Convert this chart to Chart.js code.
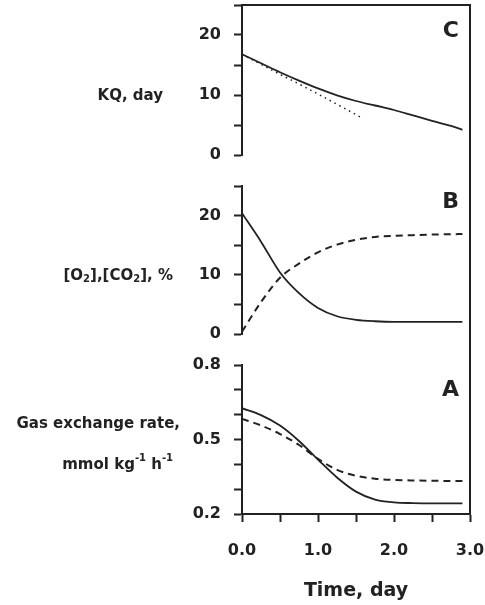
<!DOCTYPE html>
<html>
<head>
<meta charset="utf-8">
<script src="https://cdn.jsdelivr.net/npm/chart.js@4.4.0/dist/chart.umd.min.js"></script>
<style>
  html, body { margin: 0; padding: 0; background: #fff; }
  #wrap { width: 485px; height: 605px; position: relative; }
</style>
</head>
<body>
<div id="wrap"><canvas id="chart" width="485" height="605"></canvas></div>
<script>
// time grid, days
const days = [0, 0.25, 0.5, 0.75, 1.0, 1.25, 1.5, 1.75, 2.0, 2.25, 2.5, 2.75, 2.9];

// C: KQ, day (model) and the early tangent
const kqModel = [16.8, 15.3, 13.8, 12.4, 11.1, 9.95, 9.0, 8.25, 7.5, 6.6, 5.7, 4.85, 4.2];
const kqTangentDays = [0, 0.4, 0.8, 1.2, 1.59];
const kqTangent = [16.8, 14.1, 11.5, 8.8, 6.1];

// B: gas composition, %
const o2 = [20.4, 15.6, 10.4, 6.9, 4.4, 3.0, 2.4, 2.15, 2.05, 2.05, 2.05, 2.05, 2.05];
const co2 = [0.4, 5.4, 9.5, 11.9, 13.8, 15.1, 15.9, 16.4, 16.6, 16.7, 16.8, 16.85, 16.9];

// A: gas exchange rate, mmol kg-1 h-1
const o2Uptake = [0.626, 0.598, 0.556, 0.494, 0.419, 0.347, 0.29, 0.258, 0.247, 0.244, 0.243, 0.243, 0.243];
const co2Output = [0.583, 0.557, 0.522, 0.478, 0.422, 0.378, 0.354, 0.342, 0.337, 0.335, 0.334, 0.333, 0.333];

const FONT = 'DejaVu Sans';
const INK = '#222';

const toXY = (xs, ys) => xs.map((x, i) => ({ x: x, y: ys[i] }));

function lineSet(xs, ys, axis, dash, width) {
  return {
    data: toXY(xs, ys),
    yAxisID: axis,
    borderColor: INK,
    borderWidth: width || 1.8,
    borderDash: dash || [],
    pointRadius: 0,
    fill: false,
    cubicInterpolationMode: 'monotone'
  };
}

// one stacked left axis per panel
function panelAxis(min, max, step, weight, label) {
  return {
    type: 'linear',
    position: 'left',
    stack: 'panels',
    stackWeight: weight,
    min: min,
    max: max,
    border: { display: true, color: INK, width: 2 },
    grid: { drawOnChartArea: false, drawTicks: true, tickLength: 8, tickWidth: 2, tickColor: INK },
    ticks: {
      stepSize: step,
      autoSkip: false,
      padding: 13,
      color: INK,
      font: { family: FONT, size: 16, weight: 'bold' },
      callback: label
    },
    afterFit: s => { s.width = 242; s.paddingTop = 0; s.paddingBottom = 0; }
  };
}

function gapAxis(weight) {
  return { type: 'linear', position: 'left', stack: 'panels', stackWeight: weight, display: false };
}

// draws a label made of normal / sub / sup pieces, right aligned
function drawRuns(ctx, runs, right, y, size) {
  const small = Math.round(size * 0.66);
  const fontFor = m => `bold ${m ? small : size}px "${FONT}"`;
  let total = 0;
  runs.forEach(r => { ctx.font = fontFor(r[1]); total += ctx.measureText(r[0]).width; });
  let x = right - total;
  ctx.textAlign = 'left';
  ctx.textBaseline = 'middle';
  runs.forEach(r => {
    ctx.font = fontFor(r[1]);
    const dy = r[1] === 'sub' ? 4 : r[1] === 'sup' ? -6 : 0;
    ctx.fillText(r[0], x, y + dy);
    x += ctx.measureText(r[0]).width;
  });
}

const panelText = {
  id: 'panelText',
  afterDraw(chart) {
    const ctx = chart.ctx;
    const { yC, yB, yA } = chart.scales;
    const right = chart.chartArea.right - 11;
    ctx.save();
    ctx.fillStyle = INK;
    ctx.font = `bold 22px "${FONT}"`;
    ctx.textAlign = 'right';
    ctx.textBaseline = 'middle';
    ctx.fillText('C', right, yC.getPixelForValue(20.7));
    ctx.fillText('B', right, yB.getPixelForValue(22.3));
    ctx.fillText('A', right, yA.getPixelForValue(0.7));

    drawRuns(ctx, [['KQ, day']], 163, yC.getPixelForValue(10) + 1, 15);
    drawRuns(ctx, [['[O'], ['2', 'sub'], ['],[CO'], ['2', 'sub'], ['], %']], 173, yB.getPixelForValue(10) + 1, 15);
    drawRuns(ctx, [['Gas exchange rate,']], 180, yA.getPixelForValue(0.562), 15);
    drawRuns(ctx, [['mmol kg'], ['-1', 'sup'], [' h'], ['-1', 'sup']], 173, yA.getPixelForValue(0.398), 15);
    ctx.restore();
  }
};

new Chart(document.getElementById('chart'), {
  type: 'line',
  data: {
    datasets: [
      lineSet(days, kqModel, 'yC'),
      lineSet(kqTangentDays, kqTangent, 'yC', [1.5, 4], 1.5),
      lineSet(days, o2, 'yB'),
      lineSet(days, co2, 'yB', [7, 5], 2),
      lineSet(days, o2Uptake, 'yA'),
      lineSet(days, co2Output, 'yA', [7, 5], 2)
    ]
  },
  options: {
    responsive: false,
    animation: false,
    devicePixelRatio: 1,
    layout: { padding: { left: 0, right: 15, top: 5, bottom: 0 } },
    plugins: { legend: { display: false }, tooltip: { enabled: false } },
    scales: {
      x: {
        type: 'linear',
        position: 'bottom',
        min: 0,
        max: 3,
        border: { display: true, color: INK, width: 2 },
        grid: { drawOnChartArea: false, tickLength: 8, tickWidth: 2, tickColor: INK },
        ticks: {
          stepSize: 0.5,
          autoSkip: false,
          maxRotation: 0,
          padding: 19,
          color: INK,
          font: { family: FONT, size: 16, weight: 'bold' },
          callback: v => Number.isInteger(v) ? v.toFixed(1) : ''
        },
        title: {
          display: true,
          text: 'Time, day',
          color: INK,
          font: { family: FONT, size: 19, weight: 'bold' },
          padding: { top: 0, bottom: 3 }
        },
        afterFit: s => { s.height = 91; s.paddingLeft = 0; s.paddingRight = 0; }
      },
      xTop: {
        type: 'linear',
        position: 'top',
        min: 0,
        max: 3,
        border: { display: true, color: INK, width: 2 },
        grid: { display: false },
        ticks: { display: false },
        afterFit: s => { s.height = 0; }
      },
      yR: {
        type: 'linear',
        position: 'right',
        min: 0,
        max: 1,
        border: { display: true, color: INK, width: 2 },
        grid: { display: false },
        ticks: { display: false },
        afterFit: s => { s.width = 0; }
      },
      // the stack is laid out from the bottom up
      yA: panelAxis(0.2, 0.8, 0.1, 149, v => Math.round(v * 10) % 3 === 2 ? v.toFixed(1) : ''),
      gap2: gapAxis(31),
      yB: panelAxis(0, 25, 5, 148, v => v % 10 === 0 ? String(v) : ''),
      gap1: gapAxis(31),
      yC: panelAxis(0, 25, 5, 150, v => v % 10 === 0 ? String(v) : '')
    }
  },
  plugins: [panelText]
});
</script>
</body>
</html>
